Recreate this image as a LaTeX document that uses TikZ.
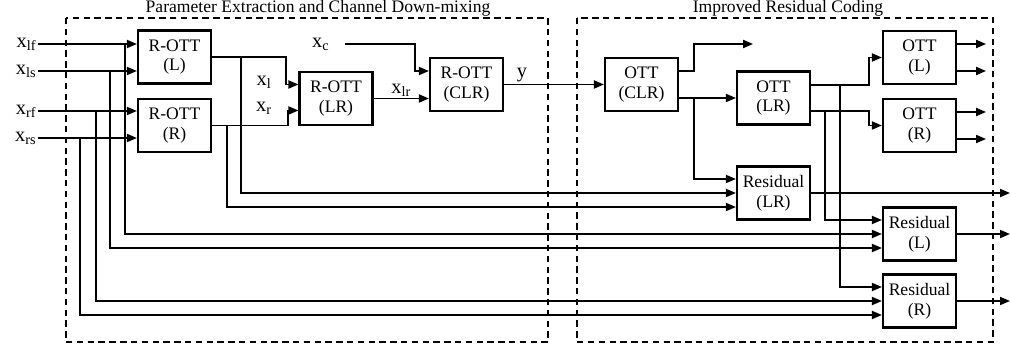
\documentclass[tikz,border=0pt]{standalone}
\usepackage{fontspec}
\setmainfont{Liberation Serif}
\usetikzlibrary{positioning,arrows.meta,calc}

\begin{document}
\begin{tikzpicture}[x=0.025cm,y=-0.025cm,font=\fontsize{12.5}{14}\selectfont,
  blk/.style={draw,line width=1.5pt,minimum width=1.825cm,minimum height=1.325cm,
              align=center,inner sep=0pt},
  sig/.style={-{Triangle[length=2.5mm,width=2mm]},line width=1.3pt},
  grp/.style={line width=1.3pt,dash pattern=on 1.6mm off 1.1mm},
  lbl/.style={inner sep=1pt,font=\fontsize{14.5}{16}\selectfont}]
\useasboundingbox (0,0) rectangle (1011,352);

% the two stages
\draw[grp] (66,18) rectangle (548,342);
\draw[grp] (577,18) rectangle (993,342);
\node[anchor=base] (tpe) at (318,13) {Parameter Extraction and Channel Down-mixing};
\node[anchor=base] (trc) at (788,13) {Improved Residual Coding};

% blocks
\node[blk] (rottL)   at (174.5,57)   {R-OTT\\(L)};
\node[blk] (rottR)   at (174.5,125.5) {R-OTT\\(R)};
\node[blk] (rottLR)  at (336,98.5)   {R-OTT\\(LR)};
\node[blk] (rottCLR) at (466.5,84.5) {R-OTT\\(CLR)};
\node[blk] (ottCLR)  at (641.5,84.5) {OTT\\(CLR)};
\node[blk] (ottLR)   at (773.5,98)   {OTT\\(LR)};
\node[blk] (ottL)    at (919.5,57.5) {OTT\\(L)};
\node[blk] (ottR)    at (919.5,125.5) {OTT\\(R)};
\node[blk] (resLR)   at (773.5,193)  {Residual\\(LR)};
\node[blk] (resL)    at (919.5,234)  {Residual\\(L)};
\node[blk] (resR)    at (919.5,301)  {Residual\\(R)};

% inputs
\node[lbl,anchor=east] (xlf) at (38,44)  {x\textsubscript{lf}};
\node[lbl,anchor=east] (xls) at (38,71)  {x\textsubscript{ls}};
\node[lbl,anchor=east] (xrf) at (38,111) {x\textsubscript{rf}};
\node[lbl,anchor=east] (xrs) at (38,138) {x\textsubscript{rs}};
\draw[sig] (xlf.east) -- (xlf.east -| rottL.west);
\draw[sig] (xls.east) -- (xls.east -| rottL.west);
\draw[sig] (xrf.east) -- (xrf.east -| rottR.west);
\draw[sig] (xrs.east) -- (xrs.east -| rottR.west);

% taps down to the residual blocks
\coordinate (c1) at (125,0);
\coordinate (c2) at (110,0);
\coordinate (c3) at (96,0);
\coordinate (c4) at (80,0);
\coordinate (c5) at (241,0);
\coordinate (c6) at (227,0);
\draw[sig] (xlf.east -| c1) |- (resL.west);
\draw[sig] (xls.east -| c2) |- ($(resL.west)+(0,14)$);
\draw[sig] (xrf.east -| c3) |- (resR.west);
\draw[sig] (xrs.east -| c4) |- ($(resR.west)+(0,14)$);
\draw[sig] (rottL.east -| c5) |- (resLR.west);
\draw[sig] (rottR.east -| c6) |- ($(resLR.west)+(0,14)$);

% down-mix
\draw[sig] (rottL.east) -- ++(74,0) |- ($(rottLR.west)+(0,-14)$);
\draw[sig] (rottR.east) -- ++(76,0) |- ($(rottLR.west)+(0,12)$);
\node[lbl] (lxl) at (264,82)  {x\textsubscript{l}};
\node[lbl] (lxr) at (264,108) {x\textsubscript{r}};
\node[lbl,anchor=east] (xc) at (331,44) {x\textsubscript{c}};
\draw[sig] ($(xc.east)+(14,0)$) -| ($(rottCLR.west)+(-14,-13.5)$) -- ($(rottCLR.west)+(0,-13.5)$);
\draw[sig] (rottLR.east) -- (rottLR.east -| rottCLR.west) node[midway,above,lbl] {x\textsubscript{lr}};
\draw[sig] (rottCLR.east) -- (ottCLR.west) node[pos=0.18,above,lbl] {y};

% residual coding
\draw[sig] ($(ottCLR.east)+(0,-13.5)$) -- ++(15,0) -- ++(0,-27) -- ++(59,0);
\draw[sig] ($(ottCLR.east)+(0,13.5)$) -- (ottLR.west);
\draw[sig] ($(ottCLR.east)+(15,13.5)$) |- ($(resLR.west)+(0,-14)$);
\draw[sig] ($(ottLR.east)+(0,-13)$) -- ++(58,0) |- (ottL.west);
\draw[sig] ($(ottLR.east)+(0,13)$) -- ++(58,0) |- (ottR.west);
\draw[sig] ($(ottLR.east)+(29,-13)$) |- ($(resR.west)+(0,-14)$);
\draw[sig] ($(ottLR.east)+(14,13)$) |- ($(resL.west)+(0,-14)$);

% outputs
\coordinate (edge) at (1010,0);
\foreach \b in {ottL,ottR}
  \foreach \d in {-13.5,13.5}
    \draw[sig] ($(\b.east)+(0,\d)$) -- ++(29,0);
\foreach \b in {resLR,resL,resR}
  \draw[sig] (\b.east) -- (\b.east -| edge);
\end{tikzpicture}
\end{document}
